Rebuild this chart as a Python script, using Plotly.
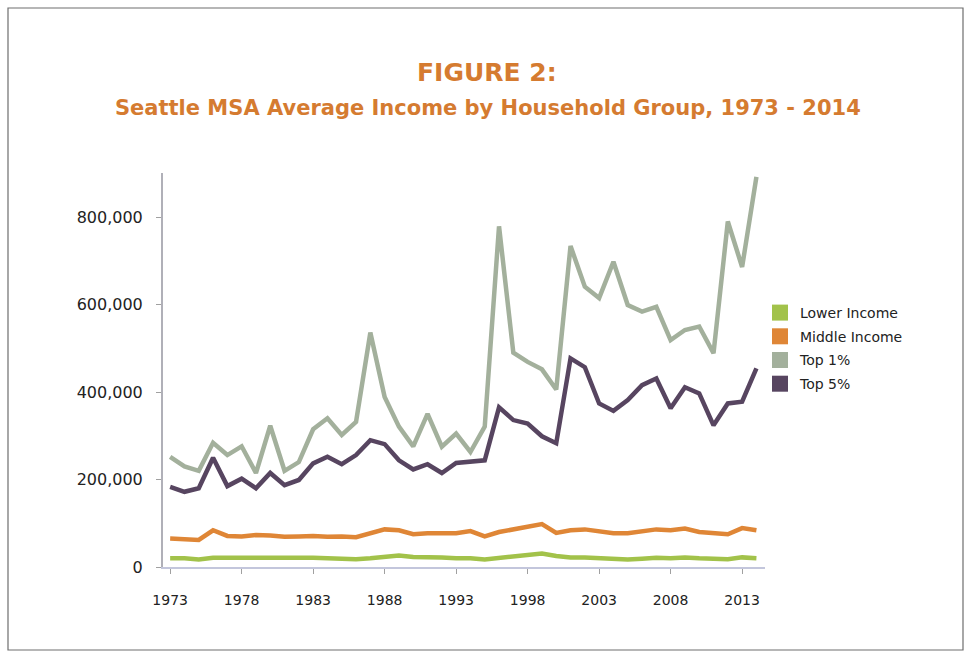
import plotly.graph_objects as go

years = list(range(1973, 2015))

lower_income = [20000, 20000, 17000, 21000, 21000, 20000, 21000, 21000, 20000, 21000,
                21000, 20000, 19000, 18000, 20000, 22000, 26000, 23000, 23000, 22000,
                20000, 20000, 17000, 21000, 25000, 28000, 31000, 25000, 22000, 22000,
                21000, 20000, 17000, 19000, 21000, 20000, 22000, 20000, 20000, 18000,
                22000, 20000]

middle_income = [65000, 64000, 62000, 84000, 71000, 70000, 73000, 72000, 69000, 70000,
                 71000, 69000, 70000, 68000, 76000, 86000, 84000, 75000, 77000, 77000,
                 77000, 82000, 70000, 80000, 86000, 90000, 98000, 78000, 84000, 86000,
                 82000, 77000, 77000, 82000, 86000, 84000, 88000, 80000, 77000, 75000,
                 89000, 84000]

top_1 = [252000, 230000, 220000, 284000, 256000, 276000, 215000, 323000, 220000, 240000,
         315000, 340000, 302000, 332000, 536000, 389000, 321000, 276000, 350000, 275000,
         305000, 263000, 321000, 779000, 490000, 469000, 452000, 406000, 734000, 641000,
         615000, 698000, 599000, 584000, 595000, 519000, 542000, 550000, 489000, 790000,
         686000, 892000]

top_5 = [183000, 172000, 180000, 250000, 185000, 202000, 180000, 215000, 187000, 199000,
         237000, 252000, 235000, 256000, 290000, 281000, 244000, 223000, 235000, 215000,
         238000, 240000, 244000, 365000, 336000, 328000, 299000, 283000, 477000, 457000,
         374000, 357000, 382000, 416000, 431000, 363000, 411000, 397000, 324000, 374000,
         378000, 454000]

series_names = ["Lower Income", "Middle Income", "Top 1%", "Top 5%"]
series_values = [lower_income, middle_income, top_1, top_5]
series_colors = ["#a2c24a", "#df8636", "#a3b09c", "#574560"]

tick_years = [1973, 1978, 1983, 1988, 1993, 1998, 2003, 2008, 2013]
y_ticks = [0, 200000, 400000, 600000, 800000]

W, H = 972, 656
ML, MR, MT, MB = 163, 207, 173, 89
pw = W - ML - MR
ph = H - MT - MB

fig = go.Figure()

for name, vals, col in zip(series_names, series_values, series_colors):
    fig.add_trace(go.Scatter(
        x=years, y=vals, mode="lines", name=name,
        line=dict(color=col, width=4.5), showlegend=False,
    ))

for name, col in zip(series_names, series_colors):
    fig.add_trace(go.Scatter(
        x=[None], y=[None], mode="markers", name=name, legendgroup=name,
        marker=dict(symbol="square", size=17, color=col),
        showlegend=True,
    ))

fig.update_layout(
    width=W, height=H,
    paper_bgcolor="white", plot_bgcolor="white",
    margin=dict(l=ML, r=MR, t=MT, b=MB),
    font=dict(family="DejaVu Sans, Verdana, sans-serif", color="#222222"),
    showlegend=True,
    legend=dict(
        x=(760 - ML) / pw, y=(H - MB - 297) / ph, xanchor="left", yanchor="top",
        font=dict(size=14, color="#222222", family="DejaVu Sans, Verdana, sans-serif"),
        tracegroupgap=2.5,
        bgcolor="rgba(0,0,0,0)",
    ),
    xaxis=dict(
        range=[1972.5, 2014.6],
        tickvals=tick_years,
        ticktext=[str(y) for y in tick_years],
        showgrid=False, zeroline=False,
        showline=True, linecolor="#c3c6dc", linewidth=1.5,
        ticks="outside", ticklen=5, tickcolor="#a0a0a0",
        ticklabelstandoff=14,
        tickfont=dict(size=14, family="DejaVu Sans, Verdana, sans-serif", color="#222222"),
    ),
    yaxis=dict(
        range=[0, 901000],
        tickvals=y_ticks,
        ticktext=[f"{v:,}" for v in y_ticks],
        showgrid=False, zeroline=False,
        showline=True, linecolor="#b0b0b8", linewidth=2,
        ticks="outside", ticklen=5, tickcolor="#a0a0a0",
        ticklabelstandoff=10,
        tickfont=dict(size=16, family="DejaVu Sans, Verdana, sans-serif", color="#222222"),
    ),
    annotations=[
        dict(text="<b>FIGURE 2:</b>", x=(487 - ML) / pw, y=(H - MB - 72) / ph,
             xref="paper", yref="paper", xanchor="center", yanchor="middle",
             showarrow=False, font=dict(size=25, color="#d57b30")),
        dict(text="<b>Seattle MSA Average Income by Household Group, 1973 - 2014</b>",
             x=(488 - ML) / pw, y=(H - MB - 108) / ph,
             xref="paper", yref="paper", xanchor="center", yanchor="middle",
             showarrow=False, font=dict(size=21, color="#d57b30")),
    ],
)

# outer frame
fig.add_shape(type="rect", xref="paper", yref="paper",
              x0=(8 - ML) / pw, x1=(963 - ML) / pw,
              y0=(H - MB - 650) / ph, y1=(H - MB - 8) / ph,
              line=dict(color="#6e6e6e", width=1.2), fillcolor="rgba(0,0,0,0)", layer="below")

fig.write_html("out.html",
               config={"displayModeBar": False},
               post_script="document.body.style.margin='0px';document.body.style.overflow='hidden';")
